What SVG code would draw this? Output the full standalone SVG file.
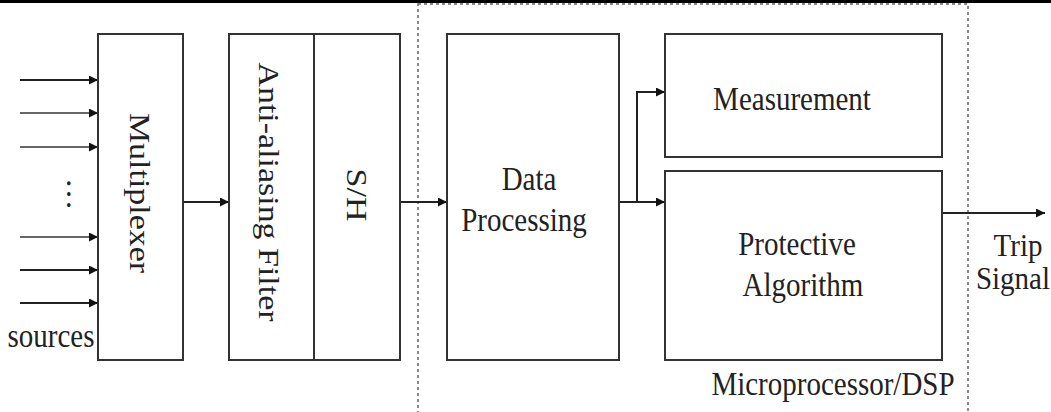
<svg xmlns="http://www.w3.org/2000/svg" width="1051" height="412" viewBox="0 0 1051 412">
<style>
.box{fill:#fff;stroke:#333;stroke-width:2}
.ln{fill:none;stroke:#222;stroke-width:2}
.lng{fill:none;stroke:#666;stroke-width:2.2}
.dash{fill:none;stroke:#666;stroke-width:1.5;stroke-dasharray:3 3}
text{font-family:"Liberation Serif","Times New Roman",serif;font-size:29px;fill:#222}
.m{text-anchor:middle}
</style>
<defs>
<marker id="ah" viewBox="0 0 10 10" refX="10" refY="5" markerWidth="11" markerHeight="9" markerUnits="userSpaceOnUse" orient="auto">
<path d="M0,0 L10,5 L0,10 z" fill="#111"/>
</marker>
</defs>
<rect x="0" y="0" width="1051" height="3" fill="#000"/>
<g id="dsp-region">
<rect class="dash" x="418" y="4" width="550" height="420"/>
<text class="m" transform="translate(833,395) scale(1,1.17)">Microprocessor/DSP</text>
</g>
<g id="connectors">
<line class="ln" x1="20" y1="80" x2="98" y2="80" marker-end="url(#ah)"/>
<line class="lng" x1="20" y1="113" x2="98" y2="113" marker-end="url(#ah)"/>
<line class="lng" x1="20" y1="147" x2="98" y2="147" marker-end="url(#ah)"/>
<line class="lng" x1="20" y1="237" x2="98" y2="237" marker-end="url(#ah)"/>
<line class="ln" x1="20" y1="270" x2="98" y2="270" marker-end="url(#ah)"/>
<line class="ln" x1="20" y1="303" x2="98" y2="303" marker-end="url(#ah)"/>
<line class="ln" x1="183" y1="202" x2="229" y2="202" marker-end="url(#ah)"/>
<line class="ln" x1="400" y1="202" x2="447" y2="202" marker-end="url(#ah)"/>
<line class="ln" x1="619" y1="202" x2="665" y2="202" marker-end="url(#ah)"/>
<polyline class="ln" points="637,202 637,92 665,92" marker-end="url(#ah)"/>
<line class="ln" x1="942" y1="213" x2="1045" y2="213" marker-end="url(#ah)"/>
</g>
<g id="sources">
<text transform="translate(67,179) scale(1,1.17) rotate(90)" letter-spacing="2">...</text>
<text class="m" transform="translate(51,347) scale(1,1.17)">sources</text>
</g>
<g id="multiplexer">
<rect class="box" x="98" y="34" width="85" height="326"/>
<text class="m" transform="translate(130,193) scale(1,1.17) rotate(90)">Multiplexer</text>
</g>
<g id="anti-aliasing">
<rect class="box" x="229" y="34" width="85" height="326"/>
<text class="m" transform="translate(259,192) scale(1,1.17) rotate(90)">Anti-aliasing Filter</text>
</g>
<g id="sample-hold">
<rect class="box" x="314" y="34" width="86" height="326"/>
<text class="m" transform="translate(347,195) scale(1,1.17) rotate(90)">S/H</text>
</g>
<g id="data-processing">
<rect class="box" x="447" y="34" width="172" height="326"/>
<text class="m" transform="translate(529,190) scale(1,1.17)">Data</text>
<text class="m" transform="translate(524,231) scale(1,1.17)">Processing</text>
</g>
<g id="measurement">
<rect class="box" x="665" y="34" width="277" height="123"/>
<text class="m" transform="translate(792,110) scale(1,1.17)">Measurement</text>
</g>
<g id="protective">
<rect class="box" x="665" y="171" width="277" height="189"/>
<text class="m" transform="translate(797,255) scale(1,1.17)">Protective</text>
<text class="m" transform="translate(803,296) scale(1,1.17)">Algorithm</text>
</g>
<g id="trip">
<text class="m" transform="translate(1018,256) scale(1,1.1)">Trip</text>
<text transform="translate(1050,289) scale(1,1.1)" text-anchor="end">Signal</text>
</g>
</svg>
